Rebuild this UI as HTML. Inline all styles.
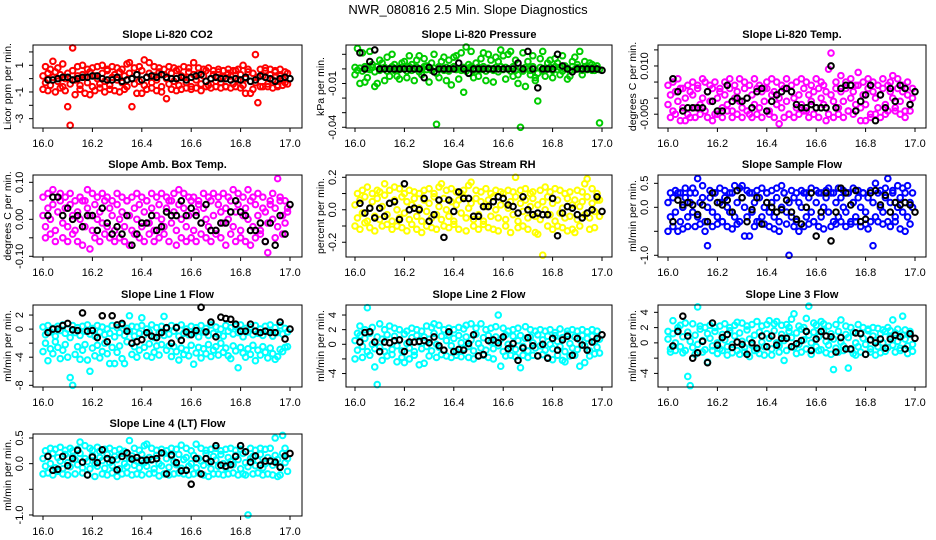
<!DOCTYPE html>
<html><head><meta charset="utf-8"><style>
html,body{margin:0;padding:0;background:#fff;}
svg{display:block;font-family:"Liberation Sans",sans-serif;}
</style></head><body>
<svg id="chart" width="936" height="540" viewBox="0 0 936 540">
<rect x="0" y="0" width="936" height="540" fill="#fff"/>
<text x="468" y="14" text-anchor="middle" font-size="13">NWR_080816  2.5 Min. Slope Diagnostics</text>
</svg>
<script>
const colorTimes=[16.00,16.01,16.02,16.03,16.04,16.05,16.06,16.07,16.08,16.09,16.10,16.11,16.12,16.13,16.14,16.15,16.16,16.17,16.18,16.19,16.20,16.21,16.22,16.23,16.24,16.25,16.26,16.27,16.28,16.29,16.30,16.31,16.32,16.33,16.34,16.35,16.36,16.37,16.38,16.39,16.40,16.41,16.42,16.43,16.44,16.45,16.46,16.47,16.48,16.49,16.50,16.51,16.52,16.53,16.54,16.55,16.56,16.57,16.58,16.59,16.60,16.61,16.62,16.63,16.64,16.65,16.66,16.67,16.68,16.69,16.70,16.71,16.72,16.73,16.74,16.75,16.76,16.77,16.78,16.79,16.80,16.81,16.82,16.83,16.84,16.85,16.86,16.87,16.88,16.89,16.90,16.91,16.92,16.93,16.94,16.95,16.96,16.97,16.98,16.99];
const blackTimes=[16.02,16.04,16.06,16.08,16.10,16.12,16.14,16.16,16.18,16.20,16.22,16.24,16.26,16.28,16.30,16.32,16.34,16.36,16.38,16.40,16.42,16.44,16.46,16.48,16.50,16.52,16.54,16.56,16.58,16.60,16.62,16.64,16.66,16.68,16.70,16.72,16.74,16.76,16.78,16.80,16.82,16.84,16.86,16.88,16.90,16.92,16.94,16.96,16.98,17.00];
const xTicks=[16.0,16.2,16.4,16.6,16.8,17.0];
const xTickLabels=["16.0","16.2","16.4","16.6","16.8","17.0"];

const co2A=[0.2,-0.3,0.4,-0.5,0.1,0.5,-0.2,0.3,-0.6,0.0,0.4,-0.4,0.6,-0.1,0.2,-0.5,0.3,0.1,-0.3,0.5,-0.6,0.2,0.0,-0.4,0.4,-0.2,0.6,-0.5,0.1,0.3,-0.1,0.5,-0.3,0.2,-0.6,0.4,0.0,-0.4,0.3,-0.2,0.6,-0.5,0.1,0.4,-0.3,0.2,-0.1,0.5,-0.6,0.3,0.0,-0.4,0.4,-0.2,0.6,-0.5,0.2,0.1,-0.3,0.5,-0.6,0.3,-0.1,0.4,-0.4,0.2,0.6,-0.5,0.0,0.3,-0.2,0.5,-0.3,0.1,-0.6,0.4,0.2,-0.4,0.6,-0.1,0.3,-0.5,0.0,0.5,-0.2,0.4,-0.3,0.1,-0.6,0.2,0.6,-0.4,0.3,-0.1,0.5,-0.5,0.2,0.0,-0.3,0.4];
const co2B=[-0.8,0.9,-0.9,0.7,1.3,-1.0,0.8,-0.7,1.1,-0.9,-2.1,-3.5,2.3,-1.2,0.9,-0.8,1.0,-1.1,0.7,-1.2,0.8,-0.9,0.9,-0.7,1.0,-1.0,0.7,-0.8,0.9,-0.9,0.8,-1.0,0.7,-0.8,1.1,1.2,-2.1,0.8,-1.1,0.9,-1.1,1.4,-0.8,1.2,-0.7,0.9,-0.9,0.8,-1.0,0.7,-1.5,0.9,-0.8,0.8,-0.9,0.7,-0.8,0.9,-0.7,0.8,-0.8,1.2,-0.7,0.8,-0.9,0.7,-0.6,0.8,-0.7,0.6,-0.6,0.7,-0.7,0.6,-0.6,0.7,-0.7,0.6,-0.6,0.7,-0.7,1.0,-1.1,0.7,-1.1,-0.8,1.8,-1.8,0.7,-0.6,0.8,-0.6,0.7,-0.7,0.6,-0.6,0.7,-0.5,0.5,-0.4];
const co2Avg=[-0.1,-0.1,0.0,0.1,0.1,-0.1,0.0,0.1,0.1,0.2,0.2,0.0,-0.1,-0.1,0.1,-0.2,-0.1,0.0,0.3,-0.1,0.1,0.2,0.1,0.3,0.1,0.0,0.0,0.1,-0.1,0.1,0.2,0.3,-0.2,0.0,0.1,0.0,0.0,-0.1,0.0,-0.1,0.1,-0.2,-0.1,0.2,0.1,0.0,-0.2,0.0,0.1,0.0];

const presA=[0.001,-0.001,0.0005,-0.0015,0.0015,0,-0.0005,0.001,-0.002,0.0015,-0.001,0.0005,0.001,-0.0015,0,0.0015,-0.001,0.0005,-0.0005,0.001,0,-0.0015,0.0015,-0.001,0.0005,0.001,-0.002,0,0.0015,-0.0005,0.001,-0.001,0.0005,-0.003,0.0015,0,-0.001,0.001,-0.0015,0.0005,0.0015,-0.0005,0,-0.001,0.001,-0.0015,0.0005,0.0015,-0.001,0,0.001,-0.0005,0.0015,-0.0015,0.0005,0,-0.001,0.001,-0.002,0.0015,-0.0005,0.001,0,-0.0015,0.0015,-0.001,-0.004,0.0005,-0.0015,0.001,0,-0.001,0.0015,-0.006,-0.003,0.001,-0.0015,0.0005,0,0.001,-0.001,0.0015,-0.0005,0.001,-0.0015,0,0.0005,-0.001,0.0015,-0.0005,0.001,0,-0.001,0.0015,-0.0005,0.0005,-0.001,0.001,0,-0.0005];
const presB=[-0.004,0.014,-0.01,0.011,-0.009,-0.006,0.012,0.003,-0.012,-0.01,0.006,0.004,-0.008,0.008,-0.005,0.01,0.003,-0.005,-0.007,0.004,0.005,-0.006,0.009,0.003,-0.008,0.006,0.009,-0.004,0.007,0.002,-0.009,0.004,0.01,-0.038,-0.006,0.005,0.008,-0.008,0.006,-0.011,0.008,0.009,-0.007,0.011,-0.016,0.015,0.003,0.012,-0.006,0.004,-0.005,0.007,0.011,-0.008,0.01,0.006,-0.009,0.008,0.005,0.013,0.009,-0.007,0.01,0.012,-0.005,0.006,-0.01,-0.04,0.011,-0.012,0.005,-0.004,0.009,-0.008,-0.022,0.007,0.012,-0.005,0.004,0.006,-0.006,0.007,0.004,-0.004,0.009,0.002,-0.007,-0.005,0.005,0.008,0.003,0.012,-0.004,0.005,0.002,0.004,0.003,-0.001,0.002,-0.037];
const presAvg=[0.011,0,0.005,0.013,0,0,0,0,0,0,0,0,0,-0.006,0.001,-0.002,0,0,0,0,0.004,0,-0.003,0,0,0,0,0,0,0,0,0,0.004,0,0.012,0,-0.013,0,0,0,0.01,0.002,0,-0.002,0,0,0,0,0,-0.001];

const tempA=[-0.002,0.001,-0.004,0.002,-0.001,0.003,-0.003,0,-0.005,0.002,0.001,-0.003,0.003,-0.002,0,-0.004,0.002,-0.001,0.003,-0.005,0,0.002,-0.003,0.001,-0.002,0.003,-0.004,0,0.002,-0.001,-0.003,0.003,0,-0.005,0.001,-0.002,0.003,-0.003,0.002,-0.001,0.003,-0.004,0.001,0.002,-0.002,0,-0.003,0.003,-0.001,-0.005,0.002,0,-0.003,0.001,-0.002,0.003,-0.004,0.001,-0.001,0.002,-0.003,0.003,0,-0.002,0.002,-0.005,0.001,-0.001,0.003,-0.003,0.002,-0.001,0.003,-0.004,0,0.002,-0.002,0.004,-0.003,0.001,-0.002,0.003,-0.005,0.002,0,-0.003,0.001,0.003,-0.002,-0.004,0.002,0,-0.003,0.003,-0.001,0.002,-0.004,0.001,-0.002,0];
const tempB=[0.004,-0.006,0.005,-0.005,0.006,-0.007,0.003,-0.007,0.004,-0.006,0.005,-0.006,0.004,-0.005,0.006,0.005,-0.006,0.004,-0.007,0.005,-0.005,0.003,-0.006,0.005,-0.004,0.006,-0.006,0.004,-0.005,0.006,-0.006,0.005,-0.004,0.004,-0.006,0.006,-0.005,0.004,-0.006,0.003,0.005,-0.005,0.006,-0.006,0.005,-0.008,0.004,-0.006,0.006,-0.005,0.004,-0.006,0.005,-0.005,0.006,-0.004,0.005,-0.006,0.004,-0.005,0.006,-0.006,0.005,0.004,-0.007,0.009,0.014,-0.006,0.005,-0.005,0.007,-0.006,0.005,-0.004,0.006,-0.005,0.004,0.008,-0.007,0.005,-0.007,0.006,-0.006,0.005,-0.005,0.004,-0.006,0.006,-0.005,0.004,0.005,0.007,-0.004,0.006,-0.005,0.004,-0.006,0.005,-0.004,0.003];
const tempAvg=[0.006,0.002,-0.004,-0.003,-0.003,-0.003,-0.003,0.002,-0.001,-0.004,-0.004,0.004,-0.001,0,-0.001,0,-0.003,0.002,0.003,-0.004,-0.001,0.001,0.002,0.003,0.002,-0.002,-0.003,-0.003,-0.002,-0.003,-0.003,-0.003,0.010,-0.003,0.003,0.004,0.004,-0.004,-0.001,0.001,0.004,-0.007,0.001,-0.003,0.003,-0.001,0.004,0.003,-0.002,0.002];

const boxA=[0.01,-0.02,0.03,0,0.04,-0.03,0.02,0.05,-0.01,0.03,-0.02,0.04,0.01,-0.03,0.02,0,0.05,-0.02,0.03,0.01,-0.03,0.04,0,0.02,-0.01,0.05,-0.02,0.03,0.01,-0.03,0.04,0,0.02,-0.02,0.05,0.01,-0.03,0.03,0,0.04,-0.02,0.02,0.05,-0.01,0.03,-0.03,0.01,0.04,0,-0.02,0.03,0.05,-0.01,0.02,-0.03,0.04,0,0.03,-0.02,0.01,0.05,-0.03,0.02,0.04,-0.01,0.03,0,-0.02,0.05,0.01,-0.03,0.04,0.02,-0.01,0.03,0,0.05,-0.02,0.02,0.04,-0.03,0.01,0.03,0,0.05,-0.02,0.04,0.01,-0.03,0.03,0.02,-0.01,0.04,0,0.03,-0.02,0.05,0.01,-0.01,0.02];
const boxB=[0.06,-0.05,0.07,-0.04,0.08,-0.06,0.06,0.07,-0.05,0.06,-0.06,0.07,-0.04,0.05,-0.06,0.06,-0.07,0.05,0.08,-0.08,0.07,-0.05,0.06,-0.06,0.07,-0.04,0.06,-0.05,0.05,-0.06,0.07,-0.05,0.06,-0.06,0.05,-0.07,0.06,-0.04,0.07,-0.05,0.06,-0.06,0.05,-0.04,0.07,-0.06,0.06,-0.05,0.07,-0.04,0.06,-0.06,0.05,0.07,-0.07,0.08,-0.05,0.07,-0.06,0.06,-0.05,0.06,-0.06,0.05,-0.04,0.07,-0.05,0.06,-0.06,0.07,-0.04,0.06,-0.05,0.07,-0.07,0.06,-0.04,0.08,-0.06,0.07,-0.05,0.06,-0.06,0.08,-0.07,0.06,-0.05,0.07,-0.04,0.06,-0.06,-0.09,0.05,0.07,-0.05,0.11,0.06,-0.04,0.05,0.03];
const boxAvg=[0.01,0.06,0.06,0.01,0.03,0,0.01,-0.02,0.01,0.01,-0.03,0.03,-0.01,-0.04,-0.02,-0.04,0.01,-0.07,-0.04,-0.01,-0.01,0.01,-0.03,-0.02,0.02,0.01,0.01,0.05,0.01,0.03,0.01,-0.01,0.04,-0.03,-0.03,-0.01,-0.01,0.02,0.05,0.02,0.01,-0.03,-0.03,-0.01,-0.06,-0.01,-0.07,0.01,-0.04,0.04];

const rhA=[0.03,-0.05,0.06,-0.02,0.08,-0.07,0.01,0.05,-0.04,0.07,-0.06,0.02,0.09,-0.03,0.04,-0.07,0.06,0,-0.05,0.08,-0.02,0.05,-0.06,0.03,0.07,-0.04,0.01,-0.07,0.06,-0.01,0.04,-0.05,0.08,-0.03,0.02,-0.06,0.07,0,-0.04,0.05,-0.07,0.03,0.06,-0.02,0.08,-0.05,0.01,0.04,-0.06,0.07,-0.03,0.05,-0.07,0.02,0.06,-0.04,0.08,0,-0.05,0.03,0.07,-0.06,0.01,0.05,-0.03,0.08,-0.07,0.04,-0.01,0.06,-0.05,0.02,0.07,-0.04,0.03,-0.06,0.05,0,0.08,-0.03,0.04,-0.07,0.06,-0.02,0.01,-0.05,0.07,-0.04,0.03,0.06,-0.06,0.02,0.05,-0.03,0.08,-0.05,0.04,-0.01,0.06,-0.04];
const rhB=[-0.1,0.1,-0.12,0.12,-0.08,0.14,-0.11,0.1,-0.13,0.12,0.11,-0.1,0.16,-0.09,0.12,-0.12,0.14,-0.1,0.13,-0.11,0.1,-0.13,0.12,-0.09,0.11,-0.12,0.1,-0.14,0.12,-0.1,0.13,-0.11,0.1,-0.12,0.14,0.16,-0.1,0.12,-0.11,0.13,-0.09,0.11,-0.12,0.1,0.12,-0.13,0.15,0.17,-0.1,0.12,-0.12,0.11,-0.09,0.13,-0.11,0.1,-0.12,0.12,-0.13,0.11,0.1,-0.1,0.12,-0.14,0.11,0.2,-0.11,0.12,-0.1,0.13,-0.12,0.1,0.11,-0.14,-0.15,0.12,-0.28,0.14,-0.1,0.11,-0.12,0.13,-0.1,0.12,-0.11,0.1,-0.13,0.11,-0.12,-0.14,0.12,-0.1,0.11,0.16,0.19,-0.12,0.13,-0.11,0.1,0.06];
const rhAvg=[0.04,-0.02,0.01,-0.05,0.01,-0.04,0.04,0.05,-0.06,0.16,0,0.01,0,0.07,-0.07,-0.03,0.06,-0.17,0.06,-0.01,0.11,0.07,0.07,-0.04,-0.04,0.02,0.02,0.05,0.08,0.07,0.03,0.02,-0.02,0.08,0,-0.03,-0.02,-0.03,-0.03,0.07,-0.16,-0.02,0.02,0.01,-0.03,-0.05,-0.02,0,0.08,-0.01];

const sampA=[0.1,-0.2,0.2,-0.1,0.3,-0.3,0,0.2,-0.2,0.1,-0.1,0.3,-0.2,0.1,0.2,-0.3,0,0.2,-0.1,0.3,-0.2,0.1,-0.3,0.2,0,-0.1,0.3,-0.2,0.1,-0.3,0.2,0,-0.2,0.3,-0.1,0.1,-0.3,0.2,-0.2,0,0.3,-0.1,0.1,-0.2,0.2,-0.3,0,0.3,-0.1,0.1,-0.2,0.2,-0.3,0.1,0,0.3,-0.2,0.2,-0.1,-0.3,0.1,0.3,-0.2,0,0.2,-0.1,0.3,-0.3,0.1,-0.2,0.2,0,-0.1,0.3,-0.3,0.1,-0.2,0.2,0,0.3,-0.1,0.2,-0.3,0.1,-0.2,0.3,0,-0.1,0.2,-0.3,0.1,0.3,-0.2,0,0.2,-0.1,0.3,-0.2,0.1,0];
const sampB=[-0.5,0.3,-0.4,0.35,-0.5,0.3,-0.45,0.4,-0.4,0.3,0.4,-0.4,0.6,-0.35,0.45,-0.5,-0.8,0.35,-0.4,0.3,-0.35,0.4,-0.3,0.35,-0.4,0.3,-0.45,0.45,-0.35,0.4,0.45,-0.6,0.35,-0.6,0.3,-0.4,0.35,-0.3,0.4,-0.35,0.3,-0.4,0.35,-0.45,0.4,-0.5,0.45,0.3,-0.35,-1.0,0.35,-0.4,0.3,-0.5,0.35,-0.4,0.3,-0.35,0.4,-0.3,0.35,-0.4,0.3,-0.45,0.35,0.4,-0.4,0.3,-0.35,0.4,-0.3,0.35,-0.4,0.3,-0.35,0.4,-0.3,0.35,-0.4,0.3,-0.35,-0.45,0.35,-0.8,0.5,-0.3,0.35,-0.35,0.4,0.6,-0.4,0.35,-0.3,0.45,-0.45,0.4,-0.5,0.45,-0.35,0.3];
const sampAvg=[-0.3,0.15,0.05,0.1,0.05,-0.15,0.05,-0.3,0.3,0.1,0.05,0.15,-0.1,0.35,0.2,-0.3,-0.05,0.2,-0.35,0.1,0.0,-0.1,-0.05,0.15,-0.1,-0.25,-0.35,0.0,0.3,-0.6,-0.1,0.3,-0.7,-0.1,0.4,0.3,0.05,0.35,-0.3,-0.25,0.3,0.35,0.05,0.25,-0.1,0.1,0.05,0.1,0.05,-0.1];

const l1A=[0.3,-0.8,0.5,-0.4,0.1,-1.0,0.4,-0.2,0.6,-0.6,0.0,-1.2,0.5,-0.5,0.2,-0.9,0.4,-0.3,0.6,-0.7,0.1,-1.0,0.5,-0.4,0.3,-0.8,0.0,-0.6,0.5,-1.1,0.2,-0.5,0.6,-0.9,0.1,-0.3,0.4,-1.0,0.3,-0.6,0.5,-0.8,0.0,-0.4,0.6,-1.2,0.2,-0.5,0.4,-0.9,0.1,-0.7,0.5,-0.3,0.3,-1.0,0.6,-0.6,0.0,-0.8,0.4,-0.5,0.2,-1.1,0.5,-0.4,0.1,-0.9,0.6,-0.6,0.3,-0.8,0.0,-1.0,0.5,-0.3,0.2,-0.7,0.4,-0.5,0.6,-1.1,0.1,-0.4,0.3,-0.8,0.5,-0.6,0.0,-0.9,0.4,-0.3,0.6,-1.0,0.2,-0.5,0.5,-0.7,0.1,-0.4];
const l1B=[-3.2,-2.0,-4.5,-2.8,-3.5,-1.8,-2.6,-4.2,-3.0,-2.2,-4.0,-6.9,-8.0,-3.6,-2.5,-4.3,-3.0,-2.2,-4.4,-6.0,-2.7,-3.8,-2.3,-4.1,-3.2,-2.0,-3.5,-4.9,-2.6,-4.9,-3.3,-2.4,-4.2,-4.9,-1.8,1.9,-3.6,-2.5,-4.0,-3.0,1.6,-2.6,-3.8,-2.1,-4.0,-3.3,-2.4,-3.7,-2.2,1.8,-3.0,-2.4,-3.9,-2.5,-3.2,-4.4,-2.7,-3.6,-3.0,-3.8,-2.3,-5.0,-3.4,-2.6,-4.1,-2.8,-3.5,-2.2,-3.9,-3.0,-2.5,-3.7,-2.0,-3.3,-2.7,-3.8,-4.2,-2.4,-3.1,-5.5,-2.6,-3.4,-4.0,-2.8,-3.6,-2.3,-4.5,-3.0,-3.7,-2.5,-3.3,-4.1,-2.7,-3.5,-4.3,-3.9,-2.9,-3.2,-2.6,-2.5];
const l1Avg=[-0.5,0.0,0.0,0.5,0.8,-0.1,-0.2,2.3,-0.3,-0.2,-1.2,1.9,-1.8,1.9,0.6,0.8,-0.3,-2.0,-1.8,-1.5,-0.5,-1.0,-1.2,-0.5,0.2,-2.0,0.2,-1.6,-0.4,-0.8,-0.2,3.1,-0.4,1.0,-1.1,1.7,1.5,1.4,0.7,-0.3,-0.3,0.7,-0.3,-0.5,-0.3,-0.5,-0.5,1.0,-1.4,0.0];

const l2A=[0.5,-0.8,1.2,-0.3,0.8,-1.0,1.5,0.0,-0.6,1.0,-0.4,0.7,-1.0,1.3,0.2,-0.7,1.1,-0.2,0.6,-0.9,1.4,0.1,-0.5,0.9,-1.0,1.2,0.3,-0.6,1.0,-0.3,0.7,-0.9,1.5,0.0,-0.4,1.1,-0.8,0.5,1.3,-0.2,0.8,-1.0,1.2,0.2,-0.6,1.0,-0.3,0.6,-0.9,1.4,0.1,-0.5,0.9,-0.8,1.2,0.3,-0.6,1.0,-0.2,0.7,-1.0,1.3,0.0,-0.4,1.1,-0.7,0.5,1.2,-0.3,0.8,-0.9,1.0,0.2,-0.5,1.3,-0.2,0.6,-0.8,1.1,0.0,-0.6,1.2,0.4,-0.3,0.9,-1.0,1.4,0.1,-0.5,1.0,-0.7,0.6,1.2,-0.2,0.8,-0.9,1.1,0.3,-0.4,0.7];
const l2B=[-2.0,1.5,2.5,-1.8,2.0,5.0,-1.5,2.3,-3.1,-5.5,2.8,-2.2,2.0,-1.6,2.5,-1.4,2.2,-2.4,2.0,-1.8,-2.5,1.8,-2.0,2.2,-1.5,2.0,-2.8,1.8,-2.6,2.5,-1.6,2.3,2.8,-1.8,2.6,-1.4,2.0,-1.6,2.2,-1.8,2.0,-1.5,2.3,-1.7,2.1,2.6,-1.8,2.8,-2.0,2.2,-1.6,2.8,-1.5,2.0,-1.8,2.2,-2.0,2.4,4.0,-3.0,2.2,-1.6,1.8,-1.5,2.0,-1.7,2.2,-3.2,-1.5,2.4,-1.8,2.0,-1.5,1.8,-1.6,2.0,-1.4,1.8,-1.8,2.0,-2.1,1.6,-1.5,2.1,-2.2,-2.4,1.8,-1.6,2.0,-1.5,1.8,-3.0,2.0,-2.5,1.7,-1.6,2.0,-1.3,1.8,-1.2];
const l2Avg=[0.3,1.6,1.7,0.3,-1.0,0.3,0.2,0.5,0.6,-1.0,0.3,0.3,0.4,0.5,0.2,1.0,-0.2,-0.8,1.7,-1.0,-0.7,-0.8,0.1,1.3,-1.6,-1.4,0.5,0.6,0.2,1.0,-0.6,0.1,-2.2,-0.5,0.9,-0.2,-1.6,0.0,-1.9,0.8,-0.8,0.6,1.1,-1.5,0.8,-0.1,-0.8,0.3,0.8,1.3];

const l3A=[0.5,-0.8,1.2,0.0,1.6,-0.5,0.8,-1.0,1.4,0.2,-0.6,1.0,-0.2,1.8,0.3,-0.9,1.2,0.6,-0.4,1.5,0.0,-0.8,1.1,0.4,-0.5,1.6,-0.2,0.9,-1.0,1.3,0.2,-0.6,1.7,0.5,-0.3,1.0,-0.9,1.4,0.1,-0.5,1.2,0.6,-0.8,1.6,0.0,-0.4,1.1,0.3,-1.0,1.5,0.7,-0.6,1.3,-0.2,1.8,0.4,-0.8,1.0,0.0,1.4,-0.5,0.8,-0.9,1.6,0.2,-0.3,1.2,0.5,-0.7,1.5,0.1,-0.4,1.1,0.7,-0.9,1.4,0.0,-0.5,1.3,0.6,-0.2,1.6,-0.8,0.9,0.3,-0.5,1.2,0.0,1.5,-0.6,0.8,-0.3,1.3,0.2,-0.7,1.0,0.5,-0.4,1.1,-0.2];
const l3B=[1.5,-1.2,2.9,-1.0,2.0,2.3,-1.3,2.6,-4.4,-5.6,2.5,-1.5,4.7,2.2,-1.2,2.0,-2.5,2.3,-1.0,2.0,-1.4,2.2,-1.0,2.5,-1.6,2.0,-1.3,2.3,2.7,-1.5,2.6,-1.2,2.2,-1.8,2.4,-1.0,2.8,-1.4,2.2,-1.6,2.4,2.9,-1.6,2.5,2.8,-1.2,2.3,-2.3,2.4,2.0,3.1,3.8,-1.4,2.2,-1.2,2.0,3.2,4.8,-1.5,2.6,2.3,-1.0,2.8,2.5,-1.3,2.2,-1.5,-3.5,2.4,-1.2,3.0,-1.0,2.2,-3.3,2.0,-1.4,-1.6,2.4,-1.2,2.0,-1.5,1.8,-1.2,2.0,-1.6,1.9,-1.3,1.7,-1.1,2.0,1.6,3.0,-1.2,1.8,-1.0,3.5,1.7,-1.4,1.5,-1.1];
const l3Avg=[-0.4,1.5,3.5,0.9,-2.0,-1.3,0.2,-2.6,2.6,-0.3,0.7,1.1,-0.6,0.1,-0.2,-1.5,0.0,-0.7,0.9,-0.5,0.9,-0.3,0.6,0.6,-0.5,-0.1,0.3,1.5,-1.0,0.5,1.5,0.9,0.8,-1.2,0.7,-0.8,-0.8,1.3,1.2,-1.5,0.4,0.0,0.5,-0.7,0.5,1.0,0.8,-0.8,1.2,0.6];

const l4A=[0.1,-0.05,0.15,0.0,0.2,-0.08,0.12,0.05,-0.1,0.18,0.02,-0.06,0.14,0.08,-0.02,0.2,-0.08,0.1,0.04,-0.1,0.16,0.0,-0.05,0.12,0.06,-0.09,0.18,0.02,-0.04,0.14,0.08,-0.1,0.2,0.0,-0.06,0.1,0.15,-0.03,0.05,-0.08,0.18,0.02,-0.05,0.12,0.07,-0.1,0.16,0.0,-0.04,0.2,0.1,-0.07,0.14,0.04,-0.02,0.18,-0.09,0.08,0.12,-0.05,0.0,0.16,-0.08,0.1,0.05,-0.03,0.2,0.02,-0.1,0.14,0.07,-0.05,0.18,0.0,-0.08,0.12,0.04,-0.02,0.16,0.08,-0.1,0.2,0.02,-0.06,0.1,0.14,-0.04,0.06,0.18,-0.08,0.0,0.12,0.05,-0.03,0.16,0.08,-0.06,0.2,0.02,0.1];
const l4B=[-0.2,0.25,-0.18,0.3,-0.22,0.28,-0.15,0.32,-0.2,0.26,-0.22,0.3,0.25,-0.2,0.28,0.42,-0.18,0.35,-0.22,0.3,0.26,-0.25,0.32,0.24,-0.2,0.28,-0.22,0.3,-0.18,0.25,-0.25,0.28,-0.2,0.24,-0.18,0.45,-0.22,0.3,-0.2,0.26,-0.22,0.35,0.38,-0.2,0.3,-0.18,0.26,-0.24,0.28,-0.2,0.25,-0.22,0.3,-0.2,0.28,-0.18,0.36,-0.2,0.3,-0.22,0.25,-0.2,0.38,-0.18,0.3,-0.22,0.26,-0.25,0.28,-0.2,0.3,-0.2,0.25,-0.22,0.28,-0.2,0.3,-0.18,0.26,-0.22,0.28,-0.2,-0.22,-1.0,0.3,-0.2,0.26,-0.18,0.3,-0.22,0.28,-0.2,0.3,-0.22,0.5,-0.25,-0.22,0.55,0.3,-0.15];
const l4Avg=[0.14,-0.13,-0.11,0.14,-0.04,0.1,0.26,0.03,-0.22,0.13,0.02,0.27,0.1,0.07,-0.12,0.14,0.21,0.09,0.12,0.06,0.07,0.08,0.1,0.21,-0.2,0.17,0.02,-0.14,-0.13,-0.4,0.1,-0.2,0.1,0.04,0.35,-0.03,-0.05,-0.02,0.14,0.35,0.23,0.03,0.15,-0.03,0.05,0.05,0.03,-0.07,0.15,0.2];

const co2Ticks=[2,1,0,-1,-2,-3], co2Labels=["","1","","-1","","-3"];
const presTicks=[0.01,0,-0.01,-0.02,-0.03,-0.04], presLabels=["","","-0.01","","","-0.04"];
const tempTicks=[0.015,0.010,0.005,0,-0.005], tempLabels=["","0.010","","","-0.005"];
const boxTicks=[0.10,0.05,0,-0.05,-0.10], boxLabels=["0.10","","0.00","","-0.10"];
const rhTicks=[0.2,0.1,0,-0.1,-0.2], rhLabels=["0.2","","0.0","","-0.2"];
const sampTicks=[0.5,0,-0.5,-1.0], sampLabels=["0.5","0.0","","-1.0"];
const l1Ticks=[2,0,-2,-4,-6,-8], l1Labels=["2","0","","-4","","-8"];
const l2Ticks=[4,2,0,-2,-4], l2Labels=["4","2","0","","-4"];
const l3Ticks=[4,2,0,-2,-4], l3Labels=["4","2","0","","-4"];
const l4Ticks=[0.5,0,-0.5,-1.0], l4Labels=["0.5","0.0","","-1.0"];

const NS="http://www.w3.org/2000/svg";
const svg=document.getElementById('chart');
const colLeft=[33,346,658], colRight=[302,612,926], colX16=[43,355,668], colX17=[290,602,915];
const rowTop=[45,175,305,434], rowBottom=[128,257,387,516];

const panels=[
 {id:'co2',c:0,r:0,title:'Slope Li-820 CO2',ylab:'Licor ppm per min.',color:'#ff0000',dom:[-3.70,2.52],ticks:co2Ticks,labels:co2Labels,a:co2A,b:co2B,avg:co2Avg},
 {id:'pressure',c:1,r:0,title:'Slope Li-820 Pressure',ylab:'kPa per min.',color:'#00cc00',dom:[-0.0405,0.01637],ticks:presTicks,labels:presLabels,a:presA,b:presB,avg:presAvg},
 {id:'li820-temp',c:2,r:0,title:'Slope Li-820 Temp.',ylab:'degrees C per min.',color:'#ff00ff',dom:[-0.00929,0.01652],ticks:tempTicks,labels:tempLabels,a:tempA,b:tempB,avg:tempAvg},
 {id:'amb-box-temp',c:0,r:1,title:'Slope Amb. Box Temp.',ylab:'degrees C per min.',color:'#ff00ff',dom:[-0.1019,0.1198],ticks:boxTicks,labels:boxLabels,a:boxA,b:boxB,avg:boxAvg},
 {id:'gas-stream-rh',c:1,r:1,title:'Slope Gas Stream RH',ylab:'percent per min.',color:'#ffff00',dom:[-0.2909,0.2142],ticks:rhTicks,labels:rhLabels,a:rhA,b:rhB,avg:rhAvg},
 {id:'sample-flow',c:2,r:1,title:'Slope Sample Flow',ylab:'ml/min per min.',color:'#0000ff',dom:[-1.0356,0.6736],ticks:sampTicks,labels:sampLabels,a:sampA,b:sampB,avg:sampAvg},
 {id:'line1-flow',c:0,r:2,title:'Slope Line 1 Flow',ylab:'ml/min per min.',color:'#00ffff',dom:[-8.24,3.43],ticks:l1Ticks,labels:l1Labels,a:l1A,b:l1B,avg:l1Avg},
 {id:'line2-flow',c:1,r:2,title:'Slope Line 2 Flow',ylab:'ml/min per min.',color:'#00ffff',dom:[-5.84,5.37],ticks:l2Ticks,labels:l2Labels,a:l2A,b:l2B,avg:l2Avg},
 {id:'line3-flow',c:2,r:2,title:'Slope Line 3 Flow',ylab:'ml/min per min.',color:'#00ffff',dom:[-5.78,4.96],ticks:l3Ticks,labels:l3Labels,a:l3A,b:l3B,avg:l3Avg},
 {id:'line4-flow',c:0,r:3,title:'Slope Line 4 (LT) Flow',ylab:'ml/min per min.',color:'#00ffff',dom:[-1.02,0.578],ticks:l4Ticks,labels:l4Labels,a:l4A,b:l4B,avg:l4Avg}
];

function mk(tag,attrs,parent){const e=document.createElementNS(NS,tag);for(const k in attrs)e.setAttribute(k,attrs[k]);(parent||svg).appendChild(e);return e;}

panels.forEach(p=>{
  const L=colLeft[p.c],R=colRight[p.c],T=rowTop[p.r],B=rowBottom[p.r];
  const xs=v=>colX16[p.c]+(v-16)*(colX17[p.c]-colX16[p.c]);
  const ys=v=>B-(v-p.dom[0])/(p.dom[1]-p.dom[0])*(B-T);
  const g=mk('g',{});
  
  
  const t=mk('text',{x:(L+R)/2,y:T-7,'text-anchor':'middle','font-size':'11','font-weight':'bold'},g);
  t.textContent=p.title;
  
  
  const yl=mk('text',{x:0,y:0,transform:`translate(${L-22},${(T+B)/2}) rotate(-90)`,'text-anchor':'middle','font-size':'10.5'},g);
  yl.textContent=p.ylab;
  
  
  const pts=mk('g',{fill:'none','stroke-width':'2'},g);
  
  
  [p.a,p.b].forEach((arr,si)=>{
    arr.forEach((v,i)=>{
      if(i>=colorTimes.length)return;
      const c=mk('circle',{cx:xs(colorTimes[i]),cy:ys(v),r:2.8,stroke:p.color},pts);
      
      
    });
  });
  p.avg.forEach((v,i)=>{
    if(i>=blackTimes.length)return;
    const c=mk('circle',{cx:xs(blackTimes[i]),cy:ys(v),r:2.8,stroke:'#000','stroke-width':'2'},pts);
    
    
  });
  const box=mk('rect',{x:L,y:T,width:R-L,height:B-T,fill:'none',stroke:'#000','stroke-width':'1'},g);
  
  
  const xa=mk('g',{},g);
  
  
  xTicks.forEach((v,i)=>{
    const x=xs(v);
    mk('line',{x1:x,x2:x,y1:B,y2:B+4,stroke:'#000'},xa);
    const tl=mk('text',{x:x,y:B+19,'text-anchor':'middle','font-size':'11'},xa);
    tl.textContent=xTickLabels[i];
    
    
  });
  const ya=mk('g',{},g);
  
  
  p.ticks.forEach((v,i)=>{
    const y=ys(v);
    mk('line',{x1:L-4,x2:L,y1:y,y2:y,stroke:'#000'},ya);
    if(p.labels[i]){
      const tl=mk('text',{x:0,y:0,transform:`translate(${L-10},${y}) rotate(-90)`,'text-anchor':'middle','font-size':'11'},ya);
      tl.textContent=p.labels[i];
      
      
    }
  });
});
</script>
</body></html>
